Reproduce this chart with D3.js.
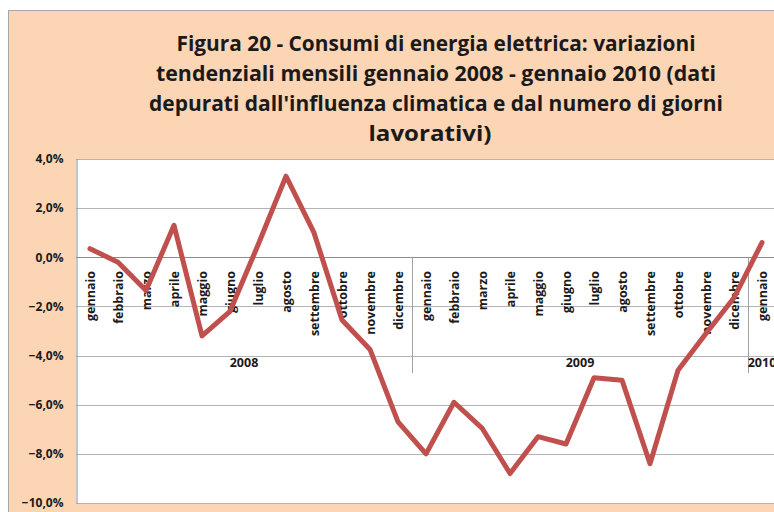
<!DOCTYPE html>
<html>
<head>
<meta charset="utf-8">
<script src="https://cdn.jsdelivr.net/npm/d3@7"></script>
<style>
  body { margin: 0; background: #ffffff; }
  svg { display: block; font-family: "Open Sans", "Liberation Sans", sans-serif; }
</style>
</head>
<body>
<svg width="774" height="512"></svg>
<script>
var months = ["gennaio","febbraio","marzo","aprile","maggio","giugno","luglio","agosto","settembre","ottobre","novembre","dicembre"];
var years = ["2008","2009","2010"];
var values2008 = [0.35,-0.2,-1.35,1.3,-3.2,-2.2,0.5,3.3,1.0,-2.55,-3.75,-6.7];
var values2009 = [-8.0,-5.9,-6.95,-8.8,-7.3,-7.6,-4.9,-5.0,-8.4,-4.6,-3.1,-1.65];
var values2010 = [0.6];
var yTicks = [4,2,0,-2,-4,-6,-8,-10];
var titleLines = [
  "Figura 20 - Consumi di energia elettrica: variazioni",
  "tendenziali mensili gennaio 2008 - gennaio 2010 (dati",
  "depurati dall'influenza climatica e dal numero di giorni",
  "lavorativi)"
];

// build one row per month
var series = [values2008, values2009, values2010];
var data = [];
series.forEach(function(vals, yi)
{
  vals.forEach(function(v, mi)
  {
    data.push({key: years[yi] + "-" + mi, month: months[mi], year: years[yi], value: v});
  });
});

var svg = d3.select("svg");

/*background box*/
svg.append("rect")
   .attr("x", 8.5).attr("y", 10.5)
   .attr("width", 780).attr("height", 520)
   .attr("fill", "#fcd5b5")
   .attr("stroke", "#a6a6a6");

/*title*/
var titleWidths = [519, 560, 574, 123];
svg.append("g").selectAll("text")
   .data(titleLines)
   .enter()
   .append("text")
   .text(function(d){ return d; })
   .attr("x", function(d,i){ return i === 3 ? 430 : 436; })
   .attr("y", function(d,i){ return 51 + i*30; })
   .attr("text-anchor", "middle")
   .attr("textLength", function(d,i){ return titleWidths[i]; })
   .attr("lengthAdjust", "spacingAndGlyphs")
   .style("font-size", "21px")
   .style("font-weight", "bold")
   .attr("fill", "#1a1a1a");

var plotLeft = 76, plotTop = 159, plotRight = 776, plotBottom = 503;

var x = d3.scaleBand()
          .domain(data.map(function(d){ return d.key; }))
          .range([plotLeft, plotRight]);

var y = d3.scaleLinear()
          .domain([-10, 4])
          .range([plotBottom, plotTop]);

svg.append("rect")
   .attr("x", plotLeft).attr("y", plotTop)
   .attr("width", plotRight - plotLeft).attr("height", plotBottom - plotTop)
   .attr("fill", "#ffffff");

/*gridlines*/
svg.append("g")
   .selectAll("line")
   .data(yTicks)
   .enter()
   .append("line")
   .attr("x1", plotLeft).attr("x2", plotRight)
   .attr("y1", function(d){ return Math.round(y(d)) + 0.5; })
   .attr("y2", function(d){ return Math.round(y(d)) + 0.5; })
   .attr("stroke", function(d){ return d === 0 ? "#8c8c8c" : "#b4b4b4"; })
   .attr("stroke-width", 1);

/*y axis*/
var fmt = d3.formatLocale({decimal: ",", thousands: ".", grouping: [3], currency: ["", "€"]}).format(".1f");
var yAxis = d3.axisLeft(y)
              .tickValues(yTicks)
              .tickSize(0)
              .tickPadding(13)
              .tickFormat(function(d){ return fmt(d) + "%"; });
var yg = svg.append("g")
            .attr("transform", "translate(" + (plotLeft + 0.5) + ",0)")
            .call(yAxis);
yg.select(".domain").attr("stroke", "#8c8c8c");
yg.selectAll("text")
  .style("font-size", "12px")
  .style("font-weight", "bold")
  .style("font-family", "'Open Sans', sans-serif")
  .attr("fill", "#1a1a1a");

/*group separators*/
var sepKeys = [years[1] + "-0", years[2] + "-0"];
svg.append("g")
   .selectAll("line")
   .data(sepKeys)
   .enter()
   .append("line")
   .attr("x1", function(d){ return Math.round(x(d)) + 0.5; })
   .attr("x2", function(d){ return Math.round(x(d)) + 0.5; })
   .attr("y1", y(0))
   .attr("y2", 373)
   .attr("stroke", "#a0a0a0");

/*month labels*/
svg.append("g")
   .selectAll("text")
   .data(data)
   .enter()
   .append("text")
   .text(function(d){ return d.month; })
   .attr("transform", function(d)
   {
     return "translate(" + (x(d.key) + x.bandwidth()/2 + 1) + ",271) rotate(-90)";
   })
   .attr("dy", "0.35em")
   .attr("text-anchor", "end")
   .style("font-size", "12.5px")
   .style("font-weight", "bold")
   .attr("fill", "#1a1a1a");

/*year labels*/
svg.append("g")
   .selectAll("text")
   .data(years)
   .enter()
   .append("text")
   .text(function(d){ return d; })
   .attr("x", function(d)
   {
     var ks = data.filter(function(e){ return e.year === d; });
     var x0 = x(ks[0].key), x1 = x(ks[ks.length-1].key) + x.bandwidth();
     return (x0 + x1)/2;
   })
   .attr("y", 367)
   .attr("text-anchor", "middle")
   .style("font-size", "12.5px")
   .style("font-weight", "bold")
   .attr("fill", "#1a1a1a");

/*line*/
var line = d3.line()
             .x(function(d){ return x(d.key) + x.bandwidth()/2; })
             .y(function(d){ return y(d.value); });

svg.append("path")
   .datum(data)
   .attr("d", line)
   .attr("fill", "none")
   .attr("stroke", "#c0504d")
   .attr("stroke-width", 5)
   .attr("stroke-linejoin", "round")
   .attr("stroke-linecap", "round");
</script>
</body>
</html>
